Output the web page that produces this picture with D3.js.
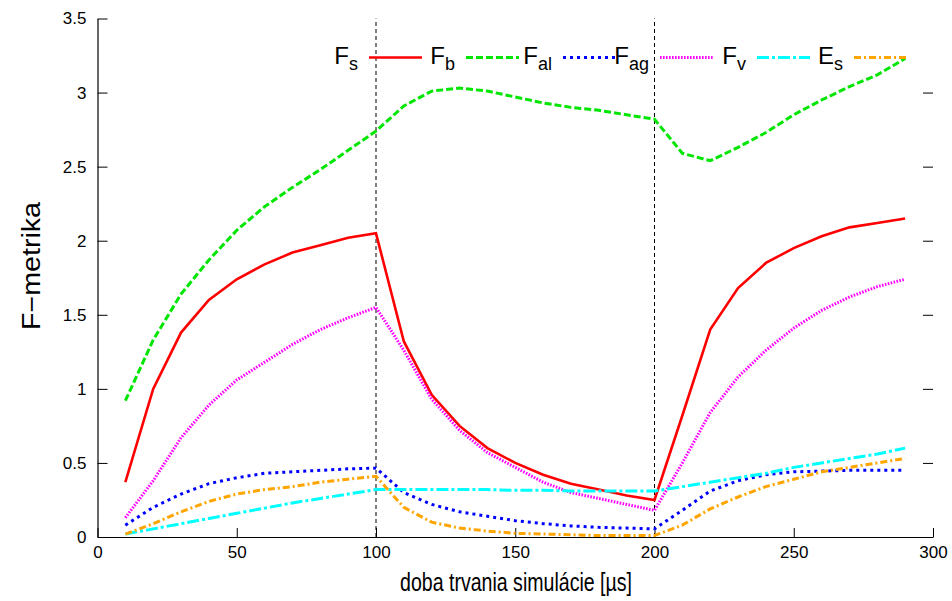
<!DOCTYPE html>
<html>
<head>
<meta charset="utf-8">
<script src="https://cdn.jsdelivr.net/npm/d3@7"></script>
<style>
  body { margin: 0; background: #fff; }
  svg { display: block; font-family: "Liberation Sans", Arial, sans-serif; }
</style>
</head>
<body>
<div id="chart"></div>
<script>
// time points [µs]
var times = [10, 20, 30, 40, 50, 60, 70, 80, 90, 100,
    110, 120, 130, 140, 150, 160, 170, 180, 190, 200,
    210, 220, 230, 240, 250, 260, 270, 280, 290];

// series values
var redVals = [0.37, 1.0, 1.38, 1.6, 1.74, 1.84, 1.92, 1.97, 2.02, 2.05,
    1.32, 0.96, 0.75, 0.6, 0.5, 0.42, 0.36, 0.32, 0.28, 0.25,
    0.82, 1.4, 1.68, 1.85, 1.95, 2.03, 2.09, 2.12, 2.15];
var greenVals = [0.92, 1.33, 1.64, 1.87, 2.07, 2.23, 2.36, 2.48, 2.61, 2.74,
    2.91, 3.01, 3.03, 3.01, 2.97, 2.93, 2.9, 2.88, 2.85, 2.82,
    2.59, 2.54, 2.63, 2.73, 2.85, 2.95, 3.04, 3.12, 3.23];
var blueVals = [0.08, 0.2, 0.29, 0.36, 0.4, 0.43, 0.44, 0.45, 0.46, 0.465,
    0.3, 0.22, 0.17, 0.14, 0.11, 0.09, 0.075, 0.065, 0.06, 0.055,
    0.18, 0.31, 0.38, 0.42, 0.44, 0.445, 0.45, 0.45, 0.45];
var magentaVals = [0.13, 0.38, 0.67, 0.89, 1.06, 1.18, 1.3, 1.4, 1.48, 1.55,
    1.26, 0.93, 0.72, 0.57, 0.47, 0.37, 0.3, 0.26, 0.22, 0.18,
    0.5, 0.84, 1.08, 1.26, 1.41, 1.53, 1.62, 1.69, 1.74];
var cyanVals = [0.02, 0.055, 0.09, 0.125, 0.16, 0.195, 0.23, 0.26, 0.29, 0.32,
    0.32, 0.32, 0.32, 0.32, 0.315, 0.315, 0.31, 0.31, 0.31, 0.31,
    0.34, 0.37, 0.4, 0.43, 0.47, 0.5, 0.53, 0.56, 0.6];
var orangeVals = [0.02, 0.09, 0.17, 0.24, 0.29, 0.32, 0.34, 0.37, 0.39, 0.41,
    0.2, 0.1, 0.06, 0.04, 0.025, 0.02, 0.015, 0.01, 0.01, 0.01,
    0.08, 0.19, 0.27, 0.34, 0.39, 0.44, 0.47, 0.5, 0.53];

// legend labels (main letter + subscript), in drawing order
var labelMain = ["F", "F", "F", "F", "F", "E"];
var labelSub = ["s", "b", "al", "ag", "v", "s"];

var xTicks = [0, 50, 100, 150, 200, 250, 300];
var yTicks = [0, 0.5, 1, 1.5, 2, 2.5, 3, 3.5];
var markers = [100, 200];

var series = [
    { values: redVals, color: "#ff0000", dash: null, width: 2.6 },
    { values: greenVals, color: "#00e600", dash: "7,3", width: 3 },
    { values: blueVals, color: "#0000ff", dash: "3,4", width: 3 },
    { values: magentaVals, color: "#ff00ff", dash: "1.6,1.4", width: 3 },
    { values: cyanVals, color: "#00ffff", dash: "12,3,3,3", width: 3 },
    { values: orangeVals, color: "#ffa500", dash: "7,3,2,3", width: 3 }
];

var width = 952, height = 601;
var margin = { left: 98, right: 19, top: 18.5, bottom: 64 };

var svg = d3.select("#chart").append("svg")
    .attr("width", width)
    .attr("height", height);

var x = d3.scaleLinear().domain([0, 300]).range([margin.left - 0.5, width - margin.right]);
var y = d3.scaleLinear().domain([0, 3.5]).range([height - margin.bottom, margin.top]);

// axes with inward ticks, gnuplot style
var xAxis = svg.append("g")
    .attr("transform", "translate(0," + y(0) + ")")
    .call(d3.axisBottom(x).tickValues(xTicks).tickSizeInner(-9).tickSizeOuter(0).tickPadding(9).tickFormat(d3.format("d")));
xAxis.select(".domain").attr("stroke", "#000").attr("stroke-width", 1.2);

var yAxis = svg.append("g")
    .attr("transform", "translate(" + x(0) + ",0)")
    .call(d3.axisLeft(y).tickValues(yTicks).tickSizeInner(-10).tickSizeOuter(0).tickPadding(11).tickFormat(d => d));
yAxis.select(".domain").attr("stroke", "#000").attr("stroke-width", 1.2);

// mirrored ticks on the right side
svg.append("g")
    .attr("transform", "translate(" + x(300) + ",0)")
    .call(d3.axisRight(y).tickValues(yTicks.slice(1, 7)).tickSizeInner(-10).tickSizeOuter(0).tickFormat(""))
    .select(".domain").remove();

svg.selectAll(".tick text")
    .attr("font-size", 17)
    .attr("font-family", "'Liberation Sans', Arial, sans-serif")
    .attr("fill", "#000");

// dashed vertical markers
svg.append("g").selectAll("line")
    .data(markers)
    .enter().append("line")
    .attr("x1", d => x(d)).attr("x2", d => x(d))
    .attr("y1", y(0)).attr("y2", y(3.5))
    .attr("stroke", "#000")
    .attr("stroke-width", 1)
    .attr("stroke-dasharray", "4,3");

// series lines
var line = d3.line()
    .x((d, i) => x(times[i]))
    .y(d => y(d));

svg.append("g").selectAll("path")
    .data(series)
    .enter().append("path")
    .attr("d", d => line(d.values))
    .attr("fill", "none")
    .attr("stroke", d => d.color)
    .attr("stroke-width", d => d.width)
    .attr("stroke-dasharray", d => d.dash)
    .attr("stroke-linejoin", "miter");

// legend: label then line sample, right-aligned row at the top
var sampleEnd = d3.scaleLinear().domain([0, 5]).range([422, 907]);
var legendY = 57.5;
var legend = svg.append("g").selectAll("g")
    .data(series)
    .enter().append("g");

legend.append("line")
    .attr("x1", (d, i) => sampleEnd(i) - 53)
    .attr("x2", (d, i) => sampleEnd(i))
    .attr("y1", legendY).attr("y2", legendY)
    .attr("stroke", d => d.color)
    .attr("stroke-width", d => d.width)
    .attr("stroke-dasharray", d => d.dash);

var legendText = legend.append("text")
    .attr("x", (d, i) => sampleEnd(i) - 64)
    .attr("y", legendY + 6)
    .attr("text-anchor", "end")
    .attr("font-size", 24);
legendText.append("tspan").text((d, i) => labelMain[i]);
legendText.append("tspan")
    .attr("dy", 6)
    .attr("font-size", 18)
    .text((d, i) => labelSub[i]);

// axis titles (the original font is narrow, so squeeze to its width)
svg.append("text")
    .attr("x", 516)
    .attr("y", 591)
    .attr("text-anchor", "middle")
    .attr("font-size", 25)
    .attr("textLength", 232)
    .attr("lengthAdjust", "spacingAndGlyphs")
    .text("doba trvania simulácie [µs]");

svg.append("text")
    .attr("transform", "translate(40,266) rotate(-90)")
    .attr("text-anchor", "middle")
    .attr("font-size", 25)
    .attr("textLength", 128)
    .attr("lengthAdjust", "spacingAndGlyphs")
    .text("F\u2212metrika");
</script>
</body>
</html>
